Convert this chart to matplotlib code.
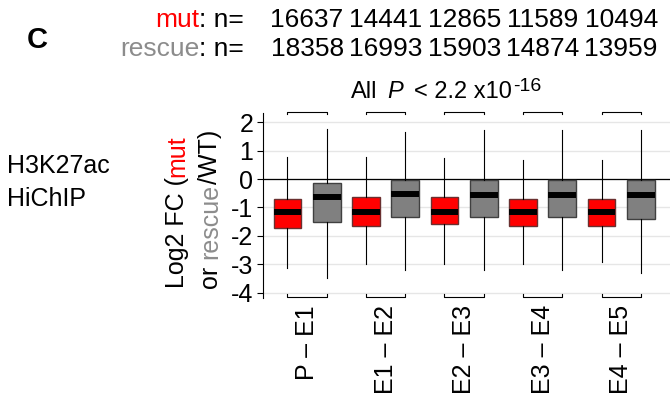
import numpy as np
import matplotlib
matplotlib.use('Agg')
import matplotlib.pyplot as plt
from matplotlib.transforms import IdentityTransform, blended_transform_factory

plt.rcParams['font.family'] = ['Liberation Sans', 'DejaVu Sans']
plt.rcParams['axes.unicode_minus'] = False

## data
pairs = ['P – E1', 'E1 – E2', 'E2 – E3', 'E3 – E4', 'E4 – E5']
n_mut = [16637, 14441, 12865, 11589, 10494]
n_rescue = [18358, 16993, 15903, 14874, 13959]

mut_lo = [-3.11, -3.00, -3.00, -3.00, -2.90]
mut_q1 = [-1.71, -1.64, -1.59, -1.64, -1.64]
mut_med = [-1.15, -1.15, -1.15, -1.15, -1.15]
mut_q3 = [-0.70, -0.64, -0.64, -0.70, -0.70]
mut_hi = [0.76, 0.76, 0.73, 0.67, 0.67]

res_lo = [-3.46, -3.19, -3.19, -3.19, -3.31]
res_q1 = [-1.50, -1.34, -1.34, -1.34, -1.39]
res_med = [-0.62, -0.53, -0.55, -0.55, -0.55]
res_q3 = [-0.13, -0.02, -0.02, -0.02, -0.02]
res_hi = [1.75, 1.64, 1.72, 1.72, 1.72]

yticks = [-4, -3, -2, -1, 0, 1, 2]

W, H = 672, 400
fig = plt.figure(figsize=(W / 100, H / 100), dpi=100)
ax = fig.add_axes([263 / W, (H - 298) / H, (670 - 263) / W, 185 / H])

pos_mut = np.arange(5) * 2 + 1.0
pos_res = pos_mut + 1.0
centers = (pos_mut + pos_res) / 2

def stats(lo, q1, med, q3, hi):
    return [dict(whislo=a, q1=b, med=c, q3=d, whishi=e, fliers=[])
            for a, b, c, d, e in zip(lo, q1, med, q3, hi)]

common = dict(widths=0.71, patch_artist=True, showcaps=False, showfliers=False,
              whiskerprops=dict(color='k', lw=0.8),
              medianprops=dict(color='k', lw=4.3, solid_capstyle='butt'))
ax.bxp(stats(mut_lo, mut_q1, mut_med, mut_q3, mut_hi), positions=pos_mut,
       boxprops=dict(facecolor='#ff0000', edgecolor='#6a3030', lw=1.0), **common)
ax.bxp(stats(res_lo, res_q1, res_med, res_q3, res_hi), positions=pos_res,
       boxprops=dict(facecolor='#808080', edgecolor='#404040', lw=1.0), **common)

ax.set_xlim(0.376, 10.745)
ax.set_ylim(-4.18, 2.32)
for y in yticks:
    ax.axhline(y, color='#e6e6e6', lw=1.0, zorder=0)
ax.axhline(0, color='k', lw=0.9, zorder=1)

ax.set_yticks(yticks)
ax.set_yticklabels([str(v) for v in yticks], fontsize=18)
ax.tick_params(axis='y', length=4, width=0.8, pad=3)
ax.set_xticks(centers)
ax.set_xticklabels(pairs, rotation=90, fontsize=18)
ax.tick_params(axis='x', length=0, pad=5)
for s in ['top', 'right', 'bottom']:
    ax.spines[s].set_visible(False)
ax.spines['left'].set_linewidth(0.8)

## brackets above and below each pair
for xr, xg in zip(pos_mut, pos_res):
    ax.plot([xr, xr, xg, xg], [2.28, 2.36, 2.36, 2.28], color='k', lw=0.8, clip_on=False)
    ax.plot([xr, xr, xg, xg], [-4.05, -4.15, -4.15, -4.05], color='k', lw=0.8, clip_on=False)

pix = IdentityTransform()
renderer = fig.canvas.get_renderer()

def ftext(x, y, s, **kw):
    return fig.text(x, H - y, s, transform=pix, **kw)

## n= rows
for row_y, lab, col, ns in [(27, 'mut', 'red', n_mut), (56, 'rescue', '#8c8c8c', n_rescue)]:
    t = ftext(244, row_y, ': n=', ha='right', va='baseline', fontsize=19)
    x0 = t.get_window_extent(renderer).x0
    fig.text(x0, H - row_y, lab, color=col, transform=pix, ha='right', va='baseline', fontsize=19)
    tr = blended_transform_factory(ax.transData, pix)
    for c, n in zip(centers, ns):
        fig.text(c, H - row_y, str(n), transform=tr, ha='center', va='baseline', fontsize=19)

ftext(27, 48, 'C', fontweight='bold', fontsize=21, ha='left', va='baseline')
ftext(7, 173, 'H3K27ac', fontsize=18, ha='left', va='baseline')
ftext(7, 206, 'HiChIP', fontsize=18, ha='left', va='baseline')

## title
tk = dict(ha='left', va='baseline', fontsize=17)
ftext(351, 98, 'All', **tk)
ftext(387, 98, 'P', fontstyle='italic', **tk)
t = ftext(414, 98, '< 2.2 x10', **tk)
xs = t.get_window_extent(renderer).x1
fig.text(xs + 1, H - 91, '-16', transform=pix, ha='left', va='baseline', fontsize=14)

## y label, two lines with coloured words
rk = dict(rotation=90, rotation_mode='anchor', ha='left', va='baseline', fontsize=18)
sp = 0.278 * 18 * 100 / 72

t = ftext(184, 288, 'Log2 FC (', **rk)
y1 = t.get_window_extent(renderer).y1
fig.text(184, y1, 'mut', color='red', transform=pix, **rk)

t = ftext(217, 288, 'or', **rk)
y1 = t.get_window_extent(renderer).y1 + sp
t = fig.text(217, y1, 'rescue', color='#8c8c8c', transform=pix, **rk)
y1 = t.get_window_extent(renderer).y1
fig.text(217, y1, '/WT)', transform=pix, **rk)

fig.savefig('out.png', dpi=100)
